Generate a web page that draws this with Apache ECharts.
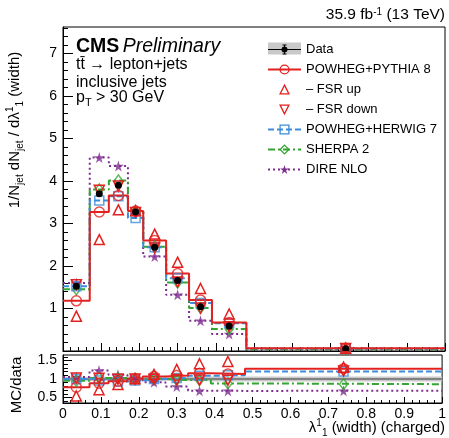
<!DOCTYPE html>
<html>
<head>
<meta charset="utf-8">
<script src="https://cdn.jsdelivr.net/npm/echarts@6/dist/echarts.min.js"></script>
<style>
html, body { margin: 0; padding: 0; background: #fff; }
#chart { width: 449px; height: 438px; }
</style>
</head>
<body>
<div id="chart"></div>
<script>
// bins and values
var binEdges  = [0, 0.07, 0.12, 0.17, 0.21, 0.27, 0.33, 0.39, 0.48, 1.0];
var dataVals  = [1.52, 3.70, 3.90, 3.27, 2.44, 1.66, 1.04, 0.59, 0.050];
var dataErr   = [0.04, 0.06, 0.06, 0.05, 0.04, 0.03, 0.03, 0.02, 0.002];
var systBand  = [0.06, 0.05, 0.05, 0.04, 0.05, 0.05, 0.06, 0.07, 0.07];
var statBand  = [0.02, 0.02, 0.02, 0.02, 0.02, 0.02, 0.02, 0.02, 0.02];
var pythia8   = [1.18, 3.27, 3.66, 3.29, 2.60, 1.82, 1.20, 0.67, 0.064];
var fsrUp     = [0.82, 2.62, 3.32, 3.30, 2.75, 2.09, 1.47, 0.87, 0.066];
var fsrDown   = [1.56, 3.78, 3.88, 3.26, 2.42, 1.62, 1.01, 0.57, 0.061];
var herwig7   = [1.52, 3.54, 3.64, 3.13, 2.44, 1.71, 1.13, 0.65, 0.060];
var sherpa2   = [1.45, 3.80, 4.01, 3.29, 2.45, 1.61, 1.01, 0.52, 0.043];
var direNlo   = [1.60, 4.55, 4.35, 3.30, 2.22, 1.32, 0.71, 0.40, 0.034];
var mainYTicks  = [1, 2, 3, 4, 5, 6, 7];
var ratioYTicks = [0.5, 1, 1.5];
var ratioYMinor = [0.4, 0.6, 0.7, 0.8, 0.9, 1.1, 1.2, 1.3, 1.4, 1.6];

var FONT = 'Liberation Sans';
var RED = '#e3211f', BLUE = '#3b8ddb', GREEN = '#33a532', PURPLE = '#7d2c8f';
var STAR = 'path://M50,0 L61,35 L98,35 L68,57 L79,91 L50,70 L21,91 L32,57 L2,35 L39,35 Z';
var DATA_ICON = 'path://M0,5 L33,5 L33,6 L0,6 Z M13.5,5.5 A3,3 0 1 1 19.5,5.5 A3,3 0 1 1 13.5,5.5 Z ' +
    'M16,1 L17,1 L17,10 L16,10 Z M14.5,0.5 L18.5,0.5 L18.5,1.5 L14.5,1.5 Z M14.5,9.5 L18.5,9.5 L18.5,10.5 L14.5,10.5 Z';

var myChart = echarts.init(document.getElementById('chart'));

// main pad minor ticks every 0.2
var mainYMinor = [];
for (var k = 0; k <= 38; k++) {
    if (k % 5 !== 0) mainYMinor.push(k / 5);
}

function stepData(vals) {
    var out = [];
    for (var i = 0; i < vals.length; i++) out.push([binEdges[i], vals[i]]);
    out.push([binEdges[binEdges.length - 1], vals[vals.length - 1]]);
    return out;
}
function centerData(vals) {
    return vals.map(function (v, i) { return [(binEdges[i] + binEdges[i + 1]) / 2, v]; });
}
function ratioOf(vals) {
    return vals.map(function (v, i) { return v / dataVals[i]; });
}

var series = [];

// data uncertainty band in the ratio pad
function bandRender(params, api) {
    var lo = api.coord([api.value(0), 1 - api.value(2)]);
    var hi = api.coord([api.value(1), 1 + api.value(2)]);
    return {
        type: 'rect',
        shape: { x: lo[0], y: hi[1], width: hi[0] - lo[0], height: lo[1] - hi[1] },
        style: { fill: api.value(3) ? '#6a6a6a' : '#c9c9c9' }
    };
}
series.push({
    name: 'syst', type: 'custom', xAxisIndex: 1, yAxisIndex: 2, clip: true, z: 1,
    renderItem: bandRender,
    data: systBand.map(function (e, i) { return [binEdges[i], binEdges[i + 1], e, 0]; })
});
series.push({
    name: 'stat', type: 'custom', xAxisIndex: 1, yAxisIndex: 2, clip: true, z: 1,
    renderItem: bandRender,
    data: statBand.map(function (e, i) { return [binEdges[i], binEdges[i + 1], e, 1]; })
});

// MC predictions: step line + markers, in both pads
function addModel(name, vals, color, dash, symbol, size, hollow, noLine) {
    var itemStyle = hollow
        ? { color: 'rgba(255,255,255,0)', borderColor: color, borderWidth: 1.5 }
        : { color: color };
    var lineStyle = { color: color, width: noLine ? 0 : 2, type: dash };
    var rot = (name.indexOf('down') > 0) ? 180 : 0;
    if (noLine) {
        // markers only; line series so the legend keeps a small symbol
        series.push({
            name: name, type: 'line', xAxisIndex: 0, yAxisIndex: 0, data: centerData(vals),
            symbol: symbol, symbolSize: size, symbolRotate: rot,
            itemStyle: itemStyle, lineStyle: lineStyle, z: 3
        });
        series.push({
            name: name + ' r', type: 'line', xAxisIndex: 1, yAxisIndex: 2, data: centerData(ratioOf(vals)),
            symbol: symbol, symbolSize: size, symbolRotate: rot,
            itemStyle: itemStyle, lineStyle: lineStyle, z: 3
        });
        return;
    }
    series.push({
        name: name, type: 'line', step: 'end', xAxisIndex: 0, yAxisIndex: 0, data: stepData(vals),
        symbol: symbol, symbolSize: size, showSymbol: false,
        itemStyle: itemStyle, lineStyle: lineStyle, z: 2
    });
    series.push({
        name: name + ' m', type: 'scatter', xAxisIndex: 0, yAxisIndex: 0, data: centerData(vals),
        symbol: symbol, symbolSize: size, itemStyle: itemStyle, z: 3
    });
    series.push({
        name: name + ' r', type: 'line', step: 'end', xAxisIndex: 1, yAxisIndex: 2, data: stepData(ratioOf(vals)),
        showSymbol: false, lineStyle: lineStyle, z: 2
    });
    series.push({
        name: name + ' rm', type: 'scatter', xAxisIndex: 1, yAxisIndex: 2, data: centerData(ratioOf(vals)),
        symbol: symbol, symbolSize: size, itemStyle: itemStyle, z: 3
    });
}

addModel('DIRE NLO', direNlo, PURPLE, [2, 3], STAR, 11, false, false);
addModel('SHERPA 2', sherpa2, GREEN, [7, 3, 2, 3], 'diamond', [8, 11], true, false);
addModel('POWHEG+HERWIG 7', herwig7, BLUE, [6, 3], 'rect', 9, true, false);
addModel('POWHEG+PYTHIA 8', pythia8, RED, 'solid', 'circle', 10, true, false);
addModel('– FSR down', fsrDown, RED, 'solid', 'triangle', 10, true, true);
addModel('– FSR up', fsrUp, RED, 'solid', 'triangle', 10, true, true);

// data points with error bars
series.push({
    name: 'Data', type: 'custom', xAxisIndex: 0, yAxisIndex: 0, clip: true, z: 4,
    itemStyle: { color: '#000' },
    data: dataVals.map(function (v, i) { return [(binEdges[i] + binEdges[i + 1]) / 2, v, dataErr[i]]; }),
    renderItem: function (params, api) {
        var p = api.coord([api.value(0), api.value(1)]);
        var t = api.coord([api.value(0), api.value(1) + api.value(2)]);
        var b = api.coord([api.value(0), api.value(1) - api.value(2)]);
        return {
            type: 'group',
            children: [
                { type: 'line', shape: { x1: p[0], y1: t[1], x2: p[0], y2: b[1] }, style: { stroke: '#000', lineWidth: 1.5 } },
                { type: 'circle', shape: { cx: p[0], cy: p[1], r: 3.5 }, style: { fill: '#000' } }
            ]
        };
    }
});

var tickLine = { show: true, lineStyle: { color: '#000', width: 1 } };

option = {
    animation: false,
    backgroundColor: '#fff',
    textStyle: { fontFamily: FONT },
    grid: [
        { left: 63, top: 27, width: 382, height: 324, show: true, borderColor: '#000', borderWidth: 1, backgroundColor: 'transparent' },
        { left: 63, top: 355, width: 382, height: 48, show: true, borderColor: '#000', borderWidth: 1, backgroundColor: 'transparent' }
    ],
    xAxis: [
        {
            type: 'value', gridIndex: 0, min: 0, max: 1, interval: 0.1,
            axisLine: tickLine,
            axisTick: { show: true, inside: true, length: 8, lineStyle: { color: '#000' } },
            minorTick: { show: true, splitNumber: 5, length: 4, lineStyle: { color: '#000' } },
            axisLabel: { show: false }, splitLine: { show: false }
        },
        {
            type: 'value', gridIndex: 1, min: 0, max: 1, interval: 0.1,
            axisLine: tickLine,
            axisTick: { show: true, inside: true, length: 6, lineStyle: { color: '#000' } },
            minorTick: { show: true, splitNumber: 5, length: 3, lineStyle: { color: '#000' } },
            axisLabel: { show: true, fontSize: 14, color: '#000', fontFamily: FONT, margin: 4 },
            splitLine: { show: false }
        }
    ],
    yAxis: [
        {
            type: 'value', gridIndex: 0, position: 'left', min: 0, max: 7.62,
            axisLine: tickLine,
            axisTick: { show: true, inside: true, length: 10, customValues: [0].concat(mainYTicks), lineStyle: { color: '#000' } },
            axisLabel: { show: true, customValues: mainYTicks, fontSize: 14, color: '#000', fontFamily: FONT, margin: 6 },
            splitLine: { show: false }
        },
        {
            type: 'value', gridIndex: 0, position: 'left', offset: 0, min: 0, max: 7.62,
            axisLine: { show: false },
            axisTick: { show: true, inside: true, length: 5, customValues: mainYMinor, lineStyle: { color: '#000' } },
            axisLabel: { show: false }, splitLine: { show: false }
        },
        {
            type: 'value', gridIndex: 1, position: 'left', min: 0.35, max: 1.65,
            axisLine: tickLine,
            axisTick: { show: true, inside: true, length: 9, customValues: ratioYTicks, lineStyle: { color: '#000' } },
            axisLabel: { show: true, customValues: ratioYTicks, fontSize: 14, color: '#000', fontFamily: FONT, margin: 6 },
            splitLine: { show: false }
        },
        {
            type: 'value', gridIndex: 1, position: 'left', offset: 0, min: 0.35, max: 1.65,
            axisLine: { show: false },
            axisTick: { show: true, inside: true, length: 5, customValues: ratioYMinor, lineStyle: { color: '#000' } },
            axisLabel: { show: false }, splitLine: { show: false }
        }
    ],
    legend: {
        orient: 'vertical', left: 267, top: 43, padding: 0,
        itemWidth: 33, itemHeight: 11, itemGap: 7, selectedMode: false,
        itemStyle: { borderWidth: 1.3 },
        textStyle: { fontFamily: FONT, fontSize: 13, color: '#000' },
        data: [
            { name: 'Data', icon: DATA_ICON, itemStyle: { color: '#000', borderWidth: 0 } },
            'POWHEG+PYTHIA 8', '– FSR up', '– FSR down', 'POWHEG+HERWIG 7', 'SHERPA 2', 'DIRE NLO'
        ]
    },
    graphic: [
        // grey box behind the Data legend entry
        { type: 'rect', shape: { x: 268, y: 42.5, width: 33, height: 12 }, style: { fill: '#c9c9c9' }, z: 0 },
        {
            type: 'text', x: 445, y: 15,
            style: {
                text: '35.9 fb{sup|-1} (13 TeV)', align: 'right', verticalAlign: 'middle',
                font: '15.5px ' + FONT, fill: '#000',
                rich: { sup: { fontSize: 10, verticalAlign: 'top', lineHeight: 10, fontFamily: FONT } }
            }
        },
        {
            type: 'text', x: 76, y: 47,
            style: {
                text: '{b|CMS} {i|Preliminary}', verticalAlign: 'middle', fill: '#000',
                rich: {
                    b: { fontFamily: FONT, fontWeight: 'bold', fontSize: 19.5 },
                    i: { fontFamily: FONT, fontStyle: 'italic', fontSize: 19.5 }
                }
            }
        },
        { type: 'text', x: 76, y: 65, style: { text: 't\u0074\u0304 \u2192 lepton+jets', verticalAlign: 'middle', font: '16px ' + FONT, fill: '#000' } },
        { type: 'text', x: 76, y: 83, style: { text: 'inclusive jets', verticalAlign: 'middle', font: '16px ' + FONT, fill: '#000' } },
        {
            type: 'text', x: 76, y: 98,
            style: {
                text: '{n|p}{sub|T}{n| > 30 GeV}', verticalAlign: 'middle', fill: '#000',
                rich: {
                    n: { fontFamily: FONT, fontSize: 16, lineHeight: 20 },
                    sub: { fontFamily: FONT, fontSize: 11, lineHeight: 11, verticalAlign: 'bottom' }
                }
            }
        },
        {
            type: 'text', x: 15, y: 130, rotation: Math.PI / 2,
            style: {
                text: '{n|1/N}{sub|jet}{n| dN}{sub|jet}{n| / d\u03bb}{sup|1}{sub|1}{n| (width)}',
                align: 'center', verticalAlign: 'middle', fill: '#000',
                rich: {
                    n: { fontFamily: FONT, fontSize: 15, lineHeight: 20 },
                    sub: { fontFamily: FONT, fontSize: 10, lineHeight: 10, verticalAlign: 'bottom' },
                    sup: { fontFamily: FONT, fontSize: 10, lineHeight: 10, verticalAlign: 'top' }
                }
            }
        },
        {
            type: 'text', x: 17, y: 385, rotation: Math.PI / 2,
            style: { text: 'MC/data', align: 'center', verticalAlign: 'middle', font: '15px ' + FONT, fill: '#000' }
        },
        {
            type: 'text', x: 445, y: 428,
            style: {
                text: '{n|\u03bb}{sup|1}{sub|1}{n| (width) (charged)}',
                align: 'right', verticalAlign: 'middle', fill: '#000',
                rich: {
                    n: { fontFamily: FONT, fontSize: 15, lineHeight: 20 },
                    sub: { fontFamily: FONT, fontSize: 10, lineHeight: 10, verticalAlign: 'bottom' },
                    sup: { fontFamily: FONT, fontSize: 10, lineHeight: 10, verticalAlign: 'top' }
                }
            }
        }
    ],
    series: series
};

myChart.setOption(option);
</script>
</body>
</html>
